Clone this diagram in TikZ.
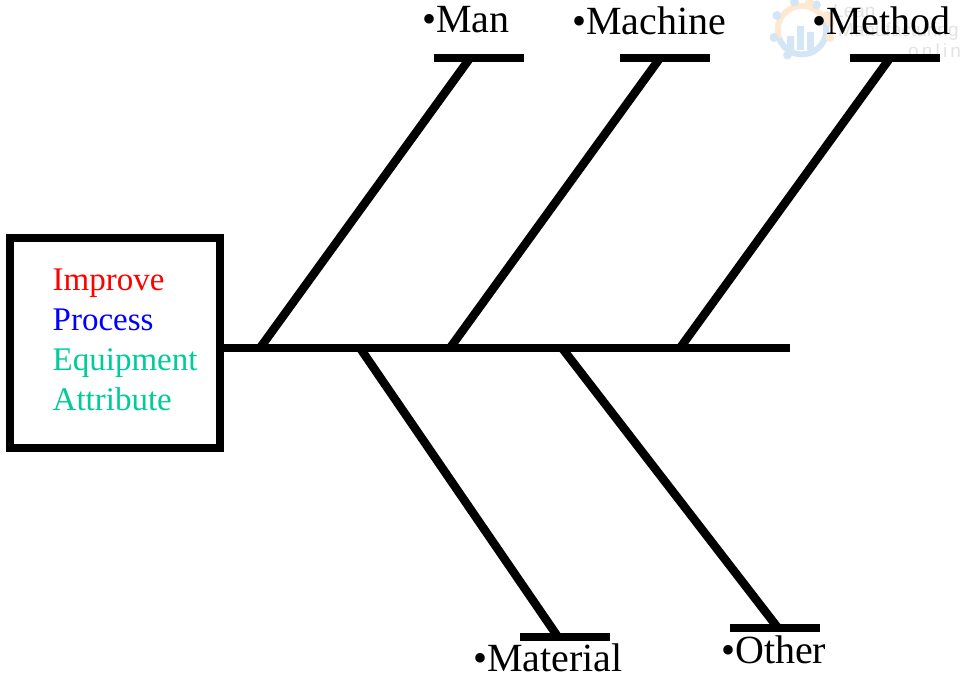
\documentclass[tikz,border=0pt]{standalone}
\usepackage{fontspec}
\setmainfont{Liberation Serif}
\setsansfont{Liberation Sans}
\usetikzlibrary{calc}
\definecolor{eqgreen}{RGB}{0,204,153}
\definecolor{wmgrey}{RGB}{226,226,226}
\definecolor{wmblue}{RGB}{212,229,245}
\definecolor{wmorange}{RGB}{253,232,210}
\tikzset{
  x=1pt,y=-1pt,
  heavy/.style={line width=8pt,line cap=butt,black},
  bone/.style={line width=8.5pt,line cap=butt,black},
  causelabel/.style={inner sep=0pt,anchor=base west,font=\fontsize{40}{40}\selectfont},
  effectline/.style={inner sep=0pt,anchor=base west,font=\fontsize{33}{33}\selectfont},
  wmtext/.style={inner sep=0pt,anchor=base west,text=wmgrey,font=\fontsize{19}{19}\sffamily},
}
\begin{document}
\begin{tikzpicture}
\useasboundingbox (0,0) rectangle (960,677);
% faint watermark
\begin{scope}
\clip (0,0) rectangle (960,677);
\coordinate (gear) at (802,30);
\draw[wmblue,line width=6pt] (gear) ++(-23,8) arc[start angle=199,delta angle=180,x radius=24.3,y radius=-24.3];
\draw[wmorange,line width=6pt] (gear) ++(-23,8) arc[start angle=199,delta angle=-180,x radius=24.3,y radius=-24.3];
\foreach \a in {60,105,150,195,240}{\fill[wmblue] (gear) ++({-\a}:29) circle[radius=4.5];}
\foreach \a in {-15,15,285,330}{\fill[wmorange] (gear) ++({\a}:29) circle[radius=4.5];}
\fill[wmblue] (787,50) rectangle (794,36) (797,50) rectangle (804,26) (807,50) rectangle (814,32);
\node[wmtext] (wml) at (833,18) {Lean};
\node[wmtext] (wma) at (838,37) {Manufacturing};
\node[wmtext] (wmb) at (908,57) {o\,n\,l\,i\,n\,e};
\end{scope}

% effect box
\node[draw,line width=8pt,minimum width=210pt,minimum height=210pt,inner sep=0pt,anchor=north west] (box) at (6,234) {};
\node[effectline,text=red] (t1) at (52.5,290) {Improve};
\node[effectline,text=blue] (t2) at (52.5,330) {Process};
\node[effectline,text=eqgreen] (t3) at (52.5,370) {Equipment};
\node[effectline,text=eqgreen] (t4) at (52.5,410) {Attribute};

% spine joints and end
\coordinate (spineend) at (790,348);
\coordinate (j1) at (260,348);
\coordinate (j2) at (450,348);
\coordinate (j3) at (680,348);
\coordinate (j4) at (360,348);
\coordinate (j5) at (562,348);
\draw[heavy] (box.east |- spineend) -- (spineend);

% cause bars
\coordinate (manL) at (434,58);    \coordinate (manR) at (524,58);    \coordinate (manJ) at (470,58);
\coordinate (macL) at (620,58);    \coordinate (macR) at (710,58);    \coordinate (macJ) at (660,58);
\coordinate (metL) at (850,58);    \coordinate (metR) at (940,58);    \coordinate (metJ) at (890,58);
\coordinate (matL) at (520,637);   \coordinate (matR) at (610,637);   \coordinate (matJ) at (558,637);
\coordinate (othL) at (730,628);   \coordinate (othR) at (820,628);   \coordinate (othJ) at (778,628);
\draw[heavy] (manL) -- (manR);
\draw[heavy] (macL) -- (macR);
\draw[heavy] (metL) -- (metR);
\draw[heavy] (matL) -- (matR);
\draw[heavy] (othL) -- (othR);

% bones
\draw[bone] (j1) -- (manJ);
\draw[bone] (j2) -- (macJ);
\draw[bone] (j3) -- (metJ);
\draw[bone] (j4) -- (matJ);
\draw[bone] (j5) -- (othJ);

% labels
\node[causelabel] (man) at (422,33) {•Man};
\node[causelabel] (machine) at (572,35) {•Machine};
\node[causelabel] (method) at (812,35) {•Method};
\node[causelabel] (material) at (473,671) {•Material};
\node[causelabel] (other) at (721,663) {•Other};
\end{tikzpicture}
\end{document}
